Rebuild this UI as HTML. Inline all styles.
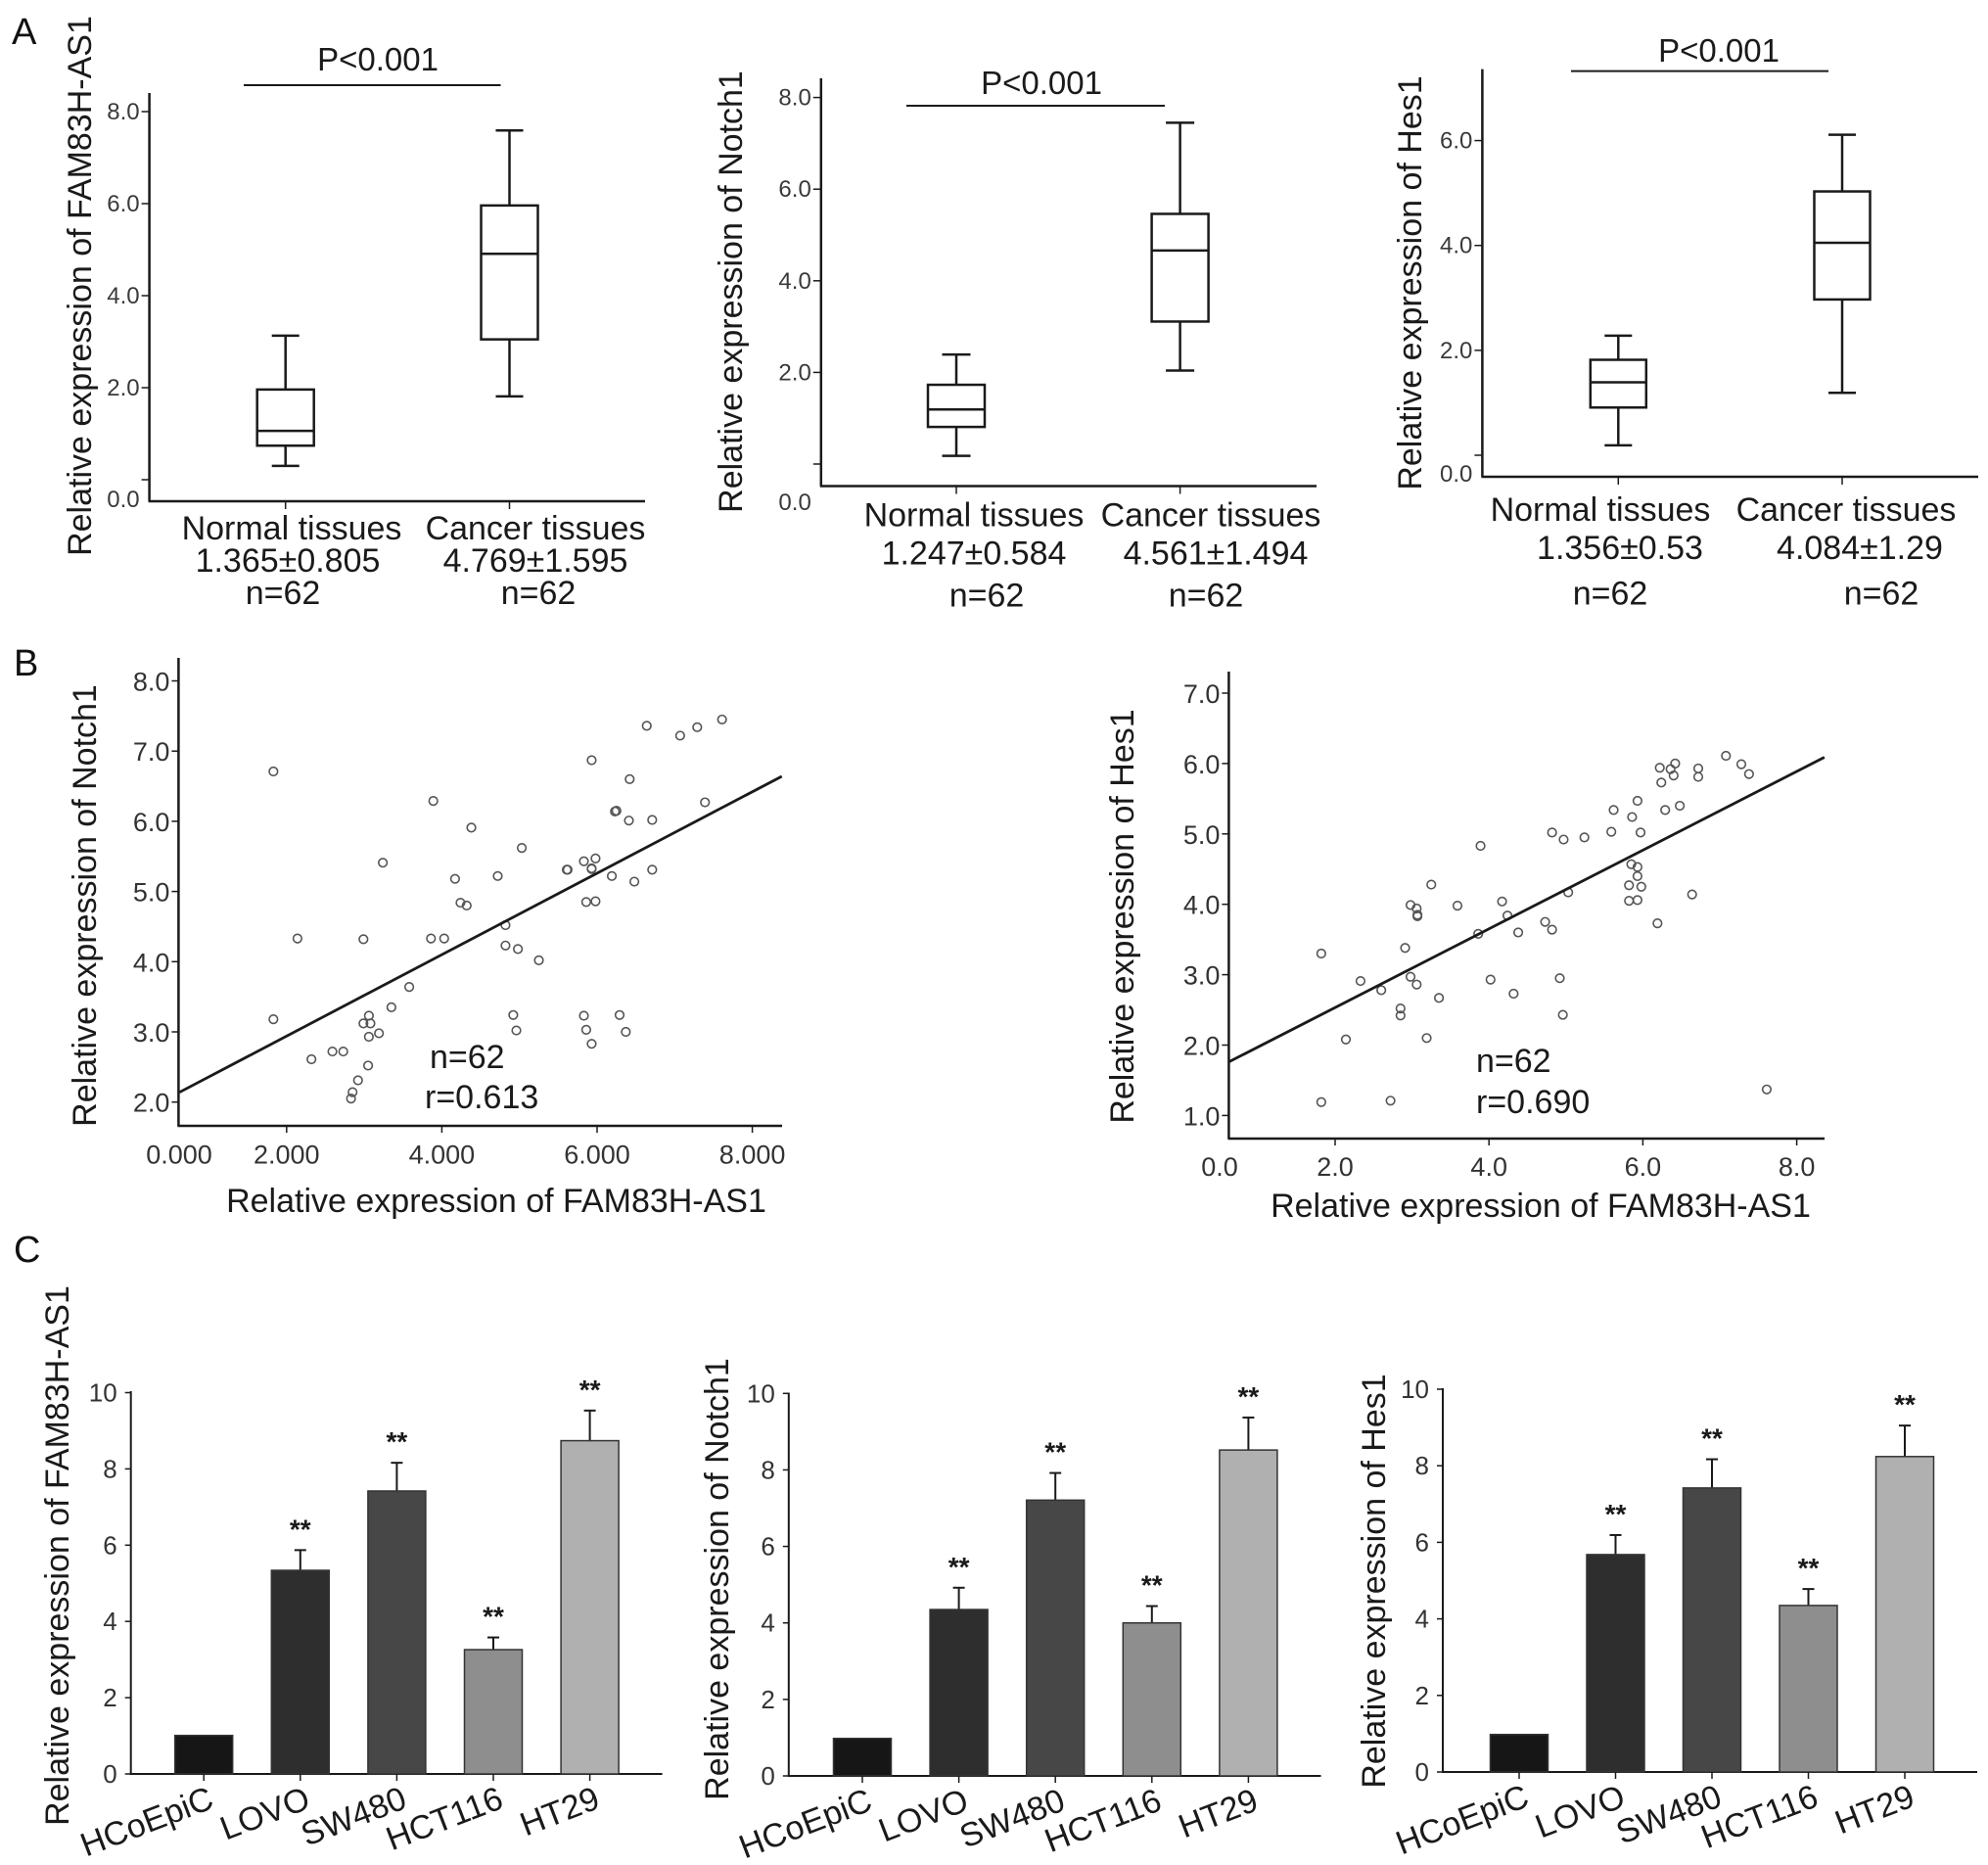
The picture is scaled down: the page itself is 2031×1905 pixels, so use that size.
<!DOCTYPE html>
<html><head><meta charset="utf-8"><style>
html,body{margin:0;padding:0;background:#fff;}
svg{display:block;font-family:"Liberation Sans",Arial,sans-serif;}
</style></head><body>
<svg id="fig" width="2031" height="1905" viewBox="0 0 2031 1905" xmlns="http://www.w3.org/2000/svg">
<rect width="2031" height="1905" fill="#fff"/>
<text x="12" y="45" font-size="38" fill="#111">A</text>
<text x="14" y="690" font-size="38" fill="#111">B</text>
<text x="14" y="1289" font-size="38" fill="#111">C</text>
</svg>
<script>
// ---------- DATA ----------
// Panel A box plots: [lowWhisker, q1, median, q3, highWhisker]
var boxCategories = ["Normal tissues", "Cancer tissues"];
var a1Normal = [0.30, 0.74, 1.06, 1.96, 3.13];
var a1Cancer = [1.81, 3.05, 4.91, 5.96, 7.59];
var a2Normal = [0.18, 0.81, 1.19, 1.73, 2.39];
var a2Cancer = [2.04, 3.11, 4.66, 5.46, 7.45];
var a3Normal = [0.19, 0.91, 1.39, 1.82, 2.28];
var a3Cancer = [1.19, 2.97, 4.05, 5.03, 6.11];
var a1Stats = ["1.365±0.805", "4.769±1.595"];
var a2Stats = ["1.247±0.584", "4.561±1.494"];
var a3Stats = ["1.356±0.53", "4.084±1.29"];
var a1Ticks = [0, 2, 4, 6, 8];
var a2Ticks = [0, 2, 4, 6, 8];
var a3Ticks = [0, 2, 4, 6];

// Panel B scatter: FAM83H-AS1 (x) vs Notch1 (y)
var b1X = [1.83,5.93,6.64,7.07,7.29,7.61,6.42,3.89,7.39,6.23,6.25,4.38,6.41,6.71,5.03,3.24,5.83,5.98,5.61,5.62,5.93,6.71,4.17,4.72,6.19,6.48,4.24,4.32,5.86,5.98,4.82,2.14,2.99,3.86,4.03,4.82,4.98,5.25,3.58,3.35,1.83,4.92,5.83,6.29,3.06,2.99,3.08,3.06,3.19,4.96,5.86,6.37,5.93,2.32,2.59,2.73,3.05,2.92,2.85,2.83,5.93];
var b1Y = [6.71,6.87,7.36,7.22,7.34,7.45,6.60,6.29,6.27,6.14,6.15,5.91,6.01,6.02,5.62,5.41,5.43,5.47,5.31,5.31,5.33,5.31,5.18,5.22,5.22,5.14,4.84,4.80,4.85,4.86,4.52,4.33,4.32,4.33,4.33,4.23,4.18,4.02,3.64,3.35,3.18,3.24,3.23,3.24,3.23,3.12,3.12,2.93,2.98,3.02,3.03,3.00,2.83,2.61,2.72,2.72,2.52,2.31,2.14,2.05,5.32];
var b1Fit = [0.58, 1.78]; // slope, intercept
var b1FitRange = [0.62, 8.38];
var b1XTicks = [2, 4, 6, 8];
var b1XTickLabels = ["2.000", "4.000", "6.000", "8.000"];
var b1YTicks = [2, 3, 4, 5, 6, 7, 8];

// FAM83H-AS1 (x) vs Hes1 (y)
var b2X = [1.82,1.82,2.14,2.33,2.60,2.72,2.85,2.85,2.91,2.98,2.98,3.06,3.06,3.07,3.07,3.19,3.25,3.35,3.59,3.86,3.89,4.02,4.17,4.24,4.32,4.38,4.73,4.82,4.82,4.92,4.96,4.97,5.03,5.24,5.59,5.62,5.82,5.82,5.85,5.86,5.93,5.93,5.93,5.93,5.97,5.98,6.19,6.22,6.24,6.29,6.36,6.40,6.42,6.48,6.64,6.72,6.72,7.08,7.28,7.38,7.61];
var b2Y = [3.30,1.19,2.08,2.91,2.78,1.21,2.52,2.42,3.38,3.99,2.97,3.94,2.86,3.85,3.83,2.10,4.28,2.67,3.98,3.58,4.83,2.93,4.04,3.84,2.73,3.60,3.75,3.64,5.02,2.95,2.43,4.92,4.17,4.95,5.03,5.34,4.27,4.05,4.57,5.24,5.47,4.53,4.40,4.06,5.02,4.25,3.73,5.94,5.73,5.34,5.92,5.83,6.00,5.40,4.14,5.93,5.81,6.11,5.99,5.85,1.37];
var b2Fit = [0.559, 1.415];
var b2FitRange = [0.617, 8.36];
var b2XTicks = [0, 2, 4, 6, 8];
var b2XTickLabels = ["0.0", "2.0", "4.0", "6.0", "8.0"];
var b2YTicks = [1, 2, 3, 4, 5, 6, 7];

// Panel C bar charts
var cellLines = ["HCoEpiC", "LOVO", "SW480", "HCT116", "HT29"];
var c1Values = [1.01, 5.34, 7.42, 3.26, 8.74];
var c1Errors = [0, 0.53, 0.74, 0.32, 0.79];
var c2Values = [0.98, 4.35, 7.21, 4.00, 8.52];
var c2Errors = [0, 0.57, 0.71, 0.44, 0.85];
var c3Values = [0.98, 5.68, 7.42, 4.35, 8.24];
var c3Errors = [0, 0.51, 0.75, 0.43, 0.81];
var cSignif = ["", "**", "**", "**", "**"];
var cTicks = [0, 2, 4, 6, 8, 10];

// ---------- DRAWING ----------
var NS = "http://www.w3.org/2000/svg";
var svg = document.getElementById("fig");
function mk(tag, attrs, parent, text) {
  var e = document.createElementNS(NS, tag);
  for (var k in attrs) e.setAttribute(k, attrs[k]);
  if (text !== undefined) e.textContent = text;
  (parent || svg).appendChild(e);
  return e;
}
function grp(name) {
  var g = mk("g", {});
  
  
  return g;
}
function line(g, x1, y1, x2, y2, w, name) {
  var l = mk("line", {x1: x1, y1: y1, x2: x2, y2: y2, stroke: "#1a1a1a", "stroke-width": w || 2.5}, g);
  
  
  return l;
}
function txt(g, x, y, s, size, anchor, name, extra) {
  var a = {x: x, y: y, "font-size": size, "text-anchor": anchor || "middle", fill: "#1a1a1a"};
  if (extra) for (var k in extra) a[k] = extra[k];
  var t = mk("text", a, g, s);
  
  
  return t;
}

// Box plot panel
function boxPanel(cfg, normal, cancer, stats, ticks, name) {
  var g = grp(name);
  var ys = function (v) { return cfg.y0 - v * cfg.ppu; };
  line(g, cfg.ax, cfg.top, cfg.ax, cfg.axY, 2.5, "y-axis");
  line(g, cfg.ax - 1, cfg.axY, cfg.right, cfg.axY, 2.5, "x-axis");
  ticks.forEach(function (t) {
    var y = ys(t);
    line(g, cfg.ax - 8, y, cfg.ax, y, 1.5, "y-tick");
    var ly = (t === 0) ? cfg.zeroLabelY : y + 8;
    txt(g, cfg.ax - 10, ly, t.toFixed(1), 24, "end", "y-tick-label", {fill: "#3a3a3a"});
  });
  [normal, cancer].forEach(function (s, i) {
    var cx = cfg.cx0 + i * cfg.step;
    var hw = cfg.boxW / 2, cw = cfg.capW / 2;
    var bg = grp("box-" + (i === 0 ? "normal" : "cancer"));
    g.appendChild(bg);
    line(bg, cx, ys(s[0]), cx, ys(s[1]), 2.5, "lower-whisker");
    line(bg, cx, ys(s[3]), cx, ys(s[4]), 2.5, "upper-whisker");
    line(bg, cx - cw, ys(s[0]), cx + cw, ys(s[0]), 2.5, "lower-cap");
    line(bg, cx - cw, ys(s[4]), cx + cw, ys(s[4]), 2.5, "upper-cap");
    var r = mk("rect", {x: cx - hw, y: ys(s[3]), width: cfg.boxW, height: ys(s[1]) - ys(s[3]), fill: "#fff", stroke: "#1a1a1a", "stroke-width": 2.5}, bg);
    
    
    line(bg, cx - hw, ys(s[2]), cx + hw, ys(s[2]), 2.5, "median-line");
    line(g, cx, cfg.axY, cx, cfg.axY + 8, 1.5, "x-tick");
    var lx = cfg.labX[i], lb = cfg.labY;
    txt(g, lx[0], lb[0], boxCategories[i], 34, "middle", "category-label");
    txt(g, lx[1], lb[1], stats[i], 34, "middle", "mean-sd-label");
    txt(g, lx[2], lb[2], "n=62", 34, "middle", "n-label");
  });
  line(g, cfg.px1, cfg.py, cfg.px2, cfg.py, 2, "significance-bar");
  txt(g, cfg.ptx, cfg.pty, "P<0.001", 33, "middle", "p-value");
  txt(g, cfg.tx, cfg.ty, cfg.title, 34, "middle", "y-axis-title", {transform: "rotate(-90 " + cfg.tx + " " + cfg.ty + ")"});
}

boxPanel({ax: 152.6, top: 95, axY: 512, right: 659, y0: 490, ppu: 47, zeroLabelY: 518, cx0: 291.7, step: 228.8, boxW: 58, capW: 28,
  labX: [[298, 294, 289], [547, 547, 550]], labY: [551, 584, 617], px1: 249, px2: 511.5, py: 87, ptx: 386, pty: 72,
  tx: 93, ty: 292, title: "Relative expression of FAM83H-AS1"}, a1Normal, a1Cancer, a1Stats, a1Ticks, "box-plot-fam83h-as1");
boxPanel({ax: 838.8, top: 80, axY: 496.5, right: 1345, y0: 474, ppu: 46.8, zeroLabelY: 521, cx0: 977, step: 228.6, boxW: 58, capW: 29,
  labX: [[995, 995, 1008], [1237, 1242, 1232]], labY: [537.5, 576.5, 619.5], px1: 926, px2: 1190, py: 108, ptx: 1064, pty: 96,
  tx: 758, ty: 298, title: "Relative expression of Notch1"}, a2Normal, a2Cancer, a2Stats, a2Ticks, "box-plot-notch1");
boxPanel({ax: 1514.4, top: 70.6, axY: 487, right: 2021, y0: 465, ppu: 53.57, zeroLabelY: 492, cx0: 1653.3, step: 228.7, boxW: 57, capW: 28,
  labX: [[1635, 1655, 1645], [1886, 1900, 1922]], labY: [532, 571, 617.5], px1: 1605, px2: 1868, py: 72.6, ptx: 1756, pty: 63,
  tx: 1452, ty: 289, title: "Relative expression of Hes1"}, a3Normal, a3Cancer, a3Stats, a3Ticks, "box-plot-hes1");

// Scatter panels
function scatterPanel(cfg, xs, ys, fit, fitRange, xTicks, xLabels, yTicks, rText, name) {
  var g = grp(name);
  var sx = function (v) { return cfg.x2 + (v - 2) * cfg.xppu; };
  var sy = function (v) { return cfg.yRefPx - (v - cfg.yRef) * cfg.yppu; };
  line(g, cfg.ax, cfg.top, cfg.ax, cfg.axY, 2.5, "y-axis");
  line(g, cfg.ax - 1, cfg.axY, cfg.right, cfg.axY, 2.5, "x-axis");
  yTicks.forEach(function (t) {
    line(g, cfg.ax - 7, sy(t), cfg.ax, sy(t), 1.5, "y-tick");
    txt(g, cfg.ax - 9, sy(t) + 10, t.toFixed(1), 27, "end", "y-tick-label", {fill: "#333"});
  });
  xTicks.forEach(function (t, i) {
    var x = sx(t);
    if (x > cfg.ax + 2) line(g, x, cfg.axY, x, cfg.axY + 7, 1.5, "x-tick");
    txt(g, Math.max(x, cfg.zeroLabX), cfg.xlabY, xLabels[i], 27, "middle", "x-tick-label", {fill: "#333"});
  });
  if (cfg.extraZero) txt(g, cfg.zeroLabX, cfg.xlabY, cfg.extraZero, 27, "middle", "x-tick-label", {fill: "#333"});
  for (var i = 0; i < xs.length; i++) {
    var c = mk("circle", {cx: sx(xs[i]), cy: sy(ys[i]), r: 4.3, fill: "none", stroke: "#555", "stroke-width": 1.6}, g);
    
    
  }
  line(g, sx(fitRange[0]), sy(fit[0] * fitRange[0] + fit[1]), sx(fitRange[1]), sy(fit[0] * fitRange[1] + fit[1]), 2.8, "regression-line");
  txt(g, cfg.nx, cfg.ny, "n=62", 34, "start", "n-annotation");
  txt(g, cfg.rx, cfg.ry, rText, 34, "start", "r-annotation");
  txt(g, cfg.xtx, cfg.xty, "Relative expression of FAM83H-AS1", 34, "middle", "x-axis-title");
  txt(g, cfg.ytx, cfg.yty, cfg.ytitle, 34, "middle", "y-axis-title", {transform: "rotate(-90 " + cfg.ytx + " " + cfg.yty + ")"});
}
scatterPanel({ax: 182.4, top: 672, axY: 1150, right: 799, x2: 292.8, xppu: 79.3, yRef: 2, yRefPx: 1125.7, yppu: 71.7,
  xlabY: 1188.5, zeroLabX: 183, extraZero: "0.000", nx: 439, ny: 1091, rx: 434, ry: 1132, xtx: 507, xty: 1238, ytx: 98, yty: 925,
  ytitle: "Relative expression of Notch1"}, b1X, b1Y, b1Fit, b1FitRange, b1XTicks, b1XTickLabels, b1YTicks, "r=0.613", "scatter-notch1");
scatterPanel({ax: 1255.4, top: 686, axY: 1163, right: 1864, x2: 1364, xppu: 78.6, yRef: 7, yRefPx: 708, yppu: 71.9,
  xlabY: 1201, zeroLabX: 1246, extraZero: null, nx: 1508, ny: 1095, rx: 1508, ry: 1137, xtx: 1574, xty: 1243, ytx: 1158, yty: 936,
  ytitle: "Relative expression of Hes1"}, b2X, b2Y, b2Fit, b2FitRange, b2XTicks, b2XTickLabels, b2YTicks, "r=0.690", "scatter-hes1");

// Bar panels
var barColors = ["#161616", "#2e2e2e", "#474747", "#8e8e8e", "#b0b0b0"];
function barPanel(cfg, values, errors, name) {
  var g = grp(name);
  var sy = function (v) { return cfg.axY - v * cfg.ppu; };
  line(g, cfg.ax, cfg.top, cfg.ax, cfg.axY, 2, "y-axis");
  line(g, cfg.ax - 1, cfg.axY, cfg.right, cfg.axY, 2, "x-axis");
  cTicks.forEach(function (t) {
    line(g, cfg.ax - 6, sy(t), cfg.ax, sy(t), 1.5, "y-tick");
    txt(g, cfg.ax - 14, sy(t) + 9, String(t), 26, "end", "y-tick-label", {fill: "#333"});
  });
  values.forEach(function (v, i) {
    var cx = cfg.cx0 + i * cfg.step;
    if (errors[i] > 0) {
      line(g, cx, sy(v), cx, sy(v + errors[i]), 2, "error-bar");
      line(g, cx - 6, sy(v + errors[i]), cx + 6, sy(v + errors[i]), 2, "error-cap");
    }
    var r = mk("rect", {x: cx - cfg.bw / 2, y: sy(v), width: cfg.bw, height: sy(0) - sy(v), fill: barColors[i], stroke: "#333", "stroke-width": 1.5}, g);
    
    
    line(g, cx, cfg.axY, cx, cfg.axY + 7, 1.5, "x-tick");
    if (cSignif[i]) txt(g, cx, sy(v + errors[i]) + 4 - 10 + 10 * (cfg.starShift ? 0 : 0) - 0, cSignif[i], 28, "middle", "significance-stars", {"font-weight": "bold", dy: "-6"});
    var lx = cx + 12, ly = cfg.axY + 34;
    txt(g, lx, ly, cellLines[i], 34, "end", "x-category-label", {transform: "rotate(-21 " + lx + " " + ly + ")"});
  });
  txt(g, cfg.tx, cfg.ty, cfg.title, 34, "middle", "y-axis-title", {transform: "rotate(-90 " + cfg.tx + " " + cfg.ty + ")"});
}
barPanel({ax: 133.7, top: 1421, axY: 1812, right: 676.6, ppu: 38.95, cx0: 208.2, step: 98.6, bw: 59, tx: 70, ty: 1589,
  title: "Relative expression of FAM83H-AS1"}, c1Values, c1Errors, "bar-chart-fam83h-as1");
barPanel({ax: 805.8, top: 1422.5, axY: 1814, right: 1349.5, ppu: 39.07, cx0: 881, step: 98.6, bw: 59, tx: 744, ty: 1613,
  title: "Relative expression of Notch1"}, c2Values, c2Errors, "bar-chart-notch1");
barPanel({ax: 1474, top: 1418, axY: 1810, right: 2020, ppu: 39.1, cx0: 1552, step: 98.5, bw: 59, tx: 1415, ty: 1615,
  title: "Relative expression of Hes1"}, c3Values, c3Errors, "bar-chart-hes1");
</script>
</body></html>
